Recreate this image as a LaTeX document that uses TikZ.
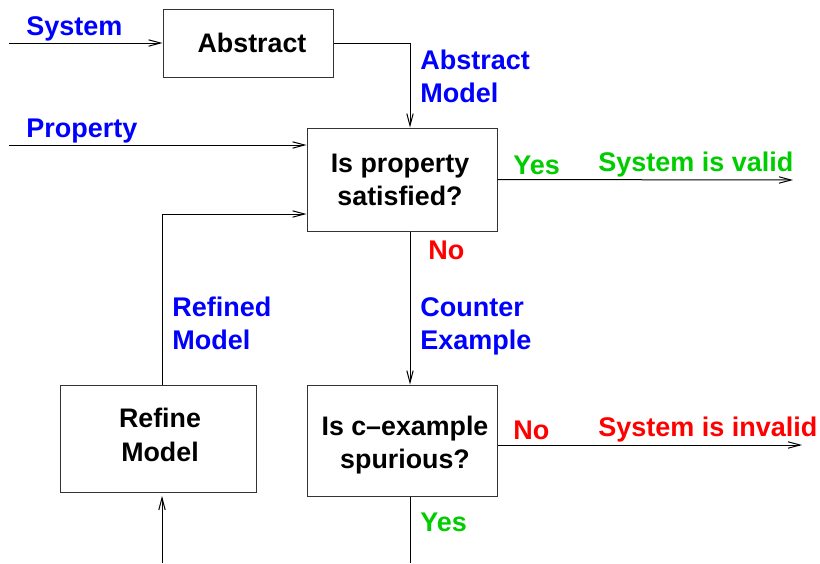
\documentclass[tikz,border=0pt]{standalone}
\usepackage{fontspec}
\setmainfont{Liberation Sans}
\usetikzlibrary{arrows.meta,calc}
\definecolor{lblue}{RGB}{0,0,255}
\definecolor{lgreen}{RGB}{0,205,0}
\definecolor{lred}{RGB}{255,0,0}
\tikzset{
  box/.style={draw=black!80, line width=0.5pt, rectangle, inner sep=0pt},
  boxtext/.style={inner sep=0pt, align=center,
    font=\fontsize{13.4}{16.8}\selectfont\bfseries},
  lbl/.style={anchor=west, inner sep=0pt, align=left,
    font=\fontsize{13.5}{16.5}\selectfont\bfseries},
  conn/.style={line width=0.5pt, -{Straight Barb[length=6pt,width=3.2pt]}},
  plain/.style={line width=0.5pt}
}
\begin{document}
\begin{tikzpicture}[x=0.5pt,y=-0.5pt]
\useasboundingbox (0,0) rectangle (820,563);
% boxes
\node[box, minimum width=85pt, minimum height=34pt] (abs) at (248,43) {};
\node[box, minimum width=95pt, minimum height=51.5pt] (prop) at (402,179.5) {};
\node[box, minimum width=95pt, minimum height=55.5pt] (cex) at (402,440.5) {};
\node[box, minimum width=98pt, minimum height=53.5pt] (ref) at (158,438.5) {};
% box texts
\node[boxtext] (tabs) at (252,43) {Abstract};
\node[boxtext] (tprop) at (400,180) {Is property\\satisfied?};
\node[boxtext] (tcex) at (405,445) {Is c--example\\spurious?};
\node[boxtext] (tref) at (160,435) {Refine\\Model};
% helper coordinates
\coordinate (sysin) at (9,43);
\coordinate (propin) at (9,145);
\coordinate (mx) at (410,0);
\coordinate (lx) at (162,0);
\coordinate (loopy) at (0,214);
\coordinate (valid) at (793,180);
\coordinate (invalid) at (802,445);
\coordinate (yesend) at (410,563);
\coordinate (refstart) at (162,563);
\coordinate (reftip) at (162,496);
% connectors
\draw[conn] (sysin) -- (abs.west);
\draw[conn] (abs.east) -| (prop.north -| mx);
\draw[conn] (propin) -- (prop.west |- propin);
\draw[conn] (ref.north -| lx) |- (prop.west |- loopy);
\draw[conn] (prop.south -| mx) -- (cex.north -| mx);
\draw[conn] (prop.east) -- (valid);
\draw[conn] (cex.east |- invalid) -- (invalid);
\draw[plain] (cex.south -| mx) -- (yesend);
\draw[conn] (refstart) -- (reftip);
% labels
\node[lbl, text=lblue] (lsys) at (26,29) {System};
\node[lbl, text=lblue] (lprop) at (26,131) {Property};
\node[lbl, text=lblue] (labsm) at (420,76) {Abstract\\Model};
\node[lbl, text=lgreen] (lyes1) at (513,165) {Yes};
\node[lbl, text=lgreen] (lvalid) at (598,165) {System is valid};
\node[lbl, text=lred] (lno1) at (428,250) {No};
\node[lbl, text=lblue] (lref) at (172,323) {Refined\\Model};
\node[lbl, text=lblue] (lcex) at (420,326) {Counter\\Example};
\node[lbl, text=lred] (lno2) at (513,430) {No};
\node[lbl, text=lred] (linvalid) at (598,430) {System is invalid};
\node[lbl, text=lgreen] (lyes2) at (420,522) {Yes};
\end{tikzpicture}
\end{document}
